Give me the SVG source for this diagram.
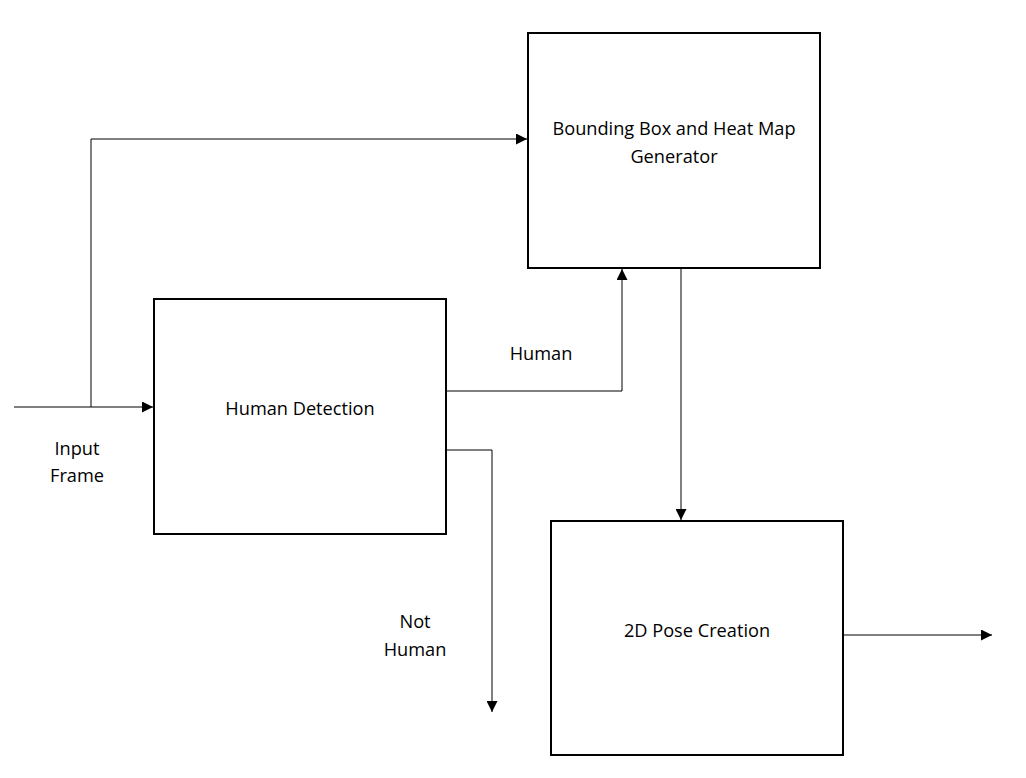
<svg xmlns="http://www.w3.org/2000/svg" width="1026" height="778" viewBox="0 0 1026 778">
<style>
.box{fill:#fff;stroke:#000;stroke-width:2}
.ln{fill:none;stroke:#000;stroke-width:1}
text{font-family:"Open Sans","Liberation Sans",sans-serif;font-size:18.2px;fill:#000;text-anchor:middle}
</style>
<defs>
<marker id="a" viewBox="0 0 10 10" refX="10" refY="5" markerWidth="11" markerHeight="11" markerUnits="userSpaceOnUse" orient="auto">
<path d="M0,0 L10,5 L0,10 Z" fill="#000"/>
</marker>
</defs>
<rect width="1026" height="778" fill="#fff"/>
<g id="connectors">
<path class="ln" d="M14,407 H153" marker-end="url(#a)"/>
<path class="ln" d="M91,407 V139 H527" marker-end="url(#a)"/>
<path class="ln" d="M446,391 H622 V269" marker-end="url(#a)"/>
<path class="ln" d="M446,450 H492 V712" marker-end="url(#a)"/>
<path class="ln" d="M681,268 V520" marker-end="url(#a)"/>
<path class="ln" d="M843,635 H992" marker-end="url(#a)"/>
</g>
<g id="bbox">
<rect class="box" x="528" y="33" width="292" height="235"/>
<text x="674" y="135">Bounding Box and Heat Map</text>
<text x="674" y="163">Generator</text>
</g>
<g id="detect">
<rect class="box" x="154" y="299" width="292" height="235"/>
<text x="300" y="415">Human Detection</text>
</g>
<g id="pose">
<rect class="box" x="551" y="521" width="292" height="234"/>
<text x="697" y="637">2D Pose Creation</text>
</g>
<g id="labels">
<text x="77" y="455">Input</text>
<text x="77" y="482">Frame</text>
<text x="541" y="360">Human</text>
<text x="415" y="628">Not</text>
<text x="415" y="656">Human</text>
</g>
</svg>
